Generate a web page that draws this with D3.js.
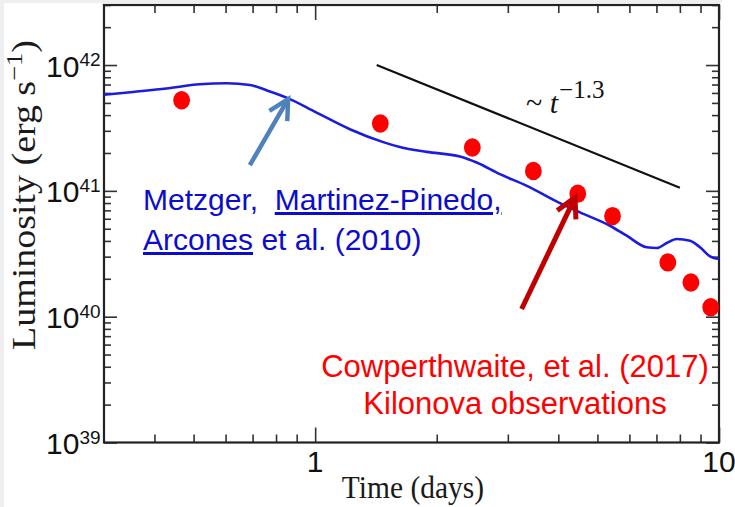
<!DOCTYPE html>
<html>
<head>
<meta charset="utf-8">
<script src="https://cdn.jsdelivr.net/npm/d3@7"></script>
<style>
  html, body { margin: 0; padding: 0; background: #fff; }
  svg { display: block; }
  text { white-space: pre; }
</style>
</head>
<body>
<div id="chart"></div>
<script>
// Cowperthwaite et al. (2017) kilonova observations (days, erg/s)
const obsTime = [0.467, 1.45, 2.45, 3.47, 4.47, 5.45, 7.47, 8.52, 9.54];
const obsLum  = [5.25e41, 3.43e41, 2.21e41, 1.44e41, 9.5e40, 6.3e40, 2.7e40, 1.87e40, 1.19e40];

// Metzger, Martinez-Pinedo, Arcones et al. (2010) model light curve
const modelTime = [0.30, 0.354, 0.428, 0.518, 0.604, 0.689, 0.758, 0.850, 1.008, 1.219,
                   1.474, 1.621, 1.888, 2.283, 2.511, 2.868, 3.343, 4.037, 4.526, 5.370,
                   5.907, 6.622, 7.011, 7.423, 7.859, 8.477, 8.973, 9.50, 10.0];
const modelLum  = [5.80e41, 6.11e41, 6.50e41, 7.03e41, 7.16e41, 6.94e41, 6.30e41, 5.51e41, 4.19e41, 3.09e41,
                   2.44e41, 2.23e41, 2.04e41, 1.875e41, 1.68e41, 1.357e41, 1.096e41, 7.99e40, 6.74e40, 5.28e40,
                   4.40e40, 3.56e40, 3.51e40, 3.85e40, 4.14e40, 4.01e40, 3.56e40, 3.02e40, 2.87e40];

// ~ t^-1.3 guide line end points
const slopeTime = [1.42, 8.0];
const slopeLum  = [1.0e42, 1.06e41];

// annotation arrows: [tail, tip] in (days, erg/s)
const blueArrow = [[0.689, 1.6e41], [0.857, 5.35e41]];
const redArrow  = [[3.245, 1.15e40], [4.40, 8.87e40]];

// ticks
const xMajor = [1, 10];
const xMajorLabels = ["1", "10"];
const xMinor = [0.4, 0.5, 0.6, 0.7, 0.8, 0.9, 2, 3, 4, 5, 6, 7, 8, 9];
const yExponents = [39, 40, 41, 42];
const yMultipliers = [2, 3, 4, 5, 6, 7, 8, 9];

const width = 735, height = 507;
const plot = { left: 104, right: 719, top: 5, bottom: 442.5 };

const x = d3.scaleLog().domain([0.3, 10]).range([plot.left, plot.right]);
const y = d3.scaleLog().domain([1e39, 3e42]).range([plot.bottom, plot.top]);

const yMajor = yExponents.map(e => Math.pow(10, e));
const yMinor = [];
yExponents.forEach(e => yMultipliers.forEach(m => {
    const v = m * Math.pow(10, e);
    if (v <= 3e42) yMinor.push(v);
}));

const svg = d3.select("#chart").append("svg")
    .attr("width", width)
    .attr("height", height)
    .attr("viewBox", `0 0 ${width} ${height}`);

// slide border strips
svg.append("rect").attr("x", 0).attr("y", 0).attr("width", 4).attr("height", height).attr("fill", "#efefef");
svg.append("rect").attr("x", 0).attr("y", 0).attr("width", 722).attr("height", 3).attr("fill", "#efefef");

svg.append("defs").append("clipPath").attr("id", "clip")
    .append("rect")
    .attr("x", plot.left).attr("y", plot.top)
    .attr("width", plot.right - plot.left).attr("height", plot.bottom - plot.top);

// ticks on all four sides, pointing inward
function tickAxis(axisFn, scale, values, size, transform) {
    const g = svg.append("g")
        .attr("transform", transform)
        .call(axisFn(scale).tickValues(values).tickSize(-size).tickFormat(""));
    g.select(".domain").remove();
    g.selectAll(".tick line").attr("stroke", "#333").attr("stroke-width", 1.6);
    return g;
}
tickAxis(d3.axisBottom, x, xMinor, 8, `translate(0,${plot.bottom})`);
tickAxis(d3.axisBottom, x, xMajor, 15, `translate(0,${plot.bottom})`);
tickAxis(d3.axisTop, x, xMinor, 8, `translate(0,${plot.top})`);
tickAxis(d3.axisTop, x, xMajor, 15, `translate(0,${plot.top})`);
tickAxis(d3.axisLeft, y, yMinor, 7, `translate(${plot.left},0)`);
tickAxis(d3.axisLeft, y, yMajor, 13, `translate(${plot.left},0)`);
tickAxis(d3.axisRight, y, yMinor, 7, `translate(${plot.right},0)`);
tickAxis(d3.axisRight, y, yMajor, 13, `translate(${plot.right},0)`);

// frame
svg.append("rect")
    .attr("x", plot.left).attr("y", plot.top)
    .attr("width", plot.right - plot.left).attr("height", plot.bottom - plot.top)
    .attr("fill", "none").attr("stroke", "#222").attr("stroke-width", 2.2);

// x tick labels
svg.append("g").selectAll("text")
    .data(xMajor)
    .join("text")
    .attr("x", d => x(d))
    .attr("y", plot.bottom + 29.5)
    .attr("text-anchor", "middle")
    .style("font", "30px 'Liberation Sans', Arial, sans-serif")
    .attr("fill", "#111")
    .text((d, i) => xMajorLabels[i]);

// y tick labels 10^n
const yLab = svg.append("g").selectAll("text")
    .data(yExponents)
    .join("text")
    .attr("x", 46)
    .attr("y", d => y(Math.pow(10, d)) + 11.5)
    .style("font", "30px 'Liberation Sans', Arial, sans-serif")
    .attr("fill", "#111");
yLab.append("tspan").text("10");
yLab.append("tspan").attr("dy", -10.5).style("font-size", "19px").text(d => d);

// axis titles
svg.append("text")
    .attr("transform", "translate(35,195) rotate(-90) scale(1.15,1)")
    .attr("text-anchor", "middle")
    .style("font", "33px 'Liberation Serif', 'Times New Roman', serif")
    .attr("fill", "#1a1a1a")
    .call(t => {
        t.append("tspan").text("Luminosity (erg s");
        t.append("tspan").attr("dy", -13).style("font-size", "23px").text("\u22121");
        t.append("tspan").attr("dy", 13).text(")");
    });

svg.append("text")
    .attr("transform", "translate(413,498) scale(1,1.1)")
    .attr("text-anchor", "middle")
    .style("font", "29.5px 'Liberation Serif', 'Times New Roman', serif")
    .attr("fill", "#1a1a1a")
    .text("Time (days)");

const chart = svg.append("g").attr("clip-path", "url(#clip)");

// model curve
const line = d3.line()
    .x(d => x(d[0]))
    .y(d => y(d[1]))
    .curve(d3.curveMonotoneX);

chart.append("path")
    .datum(modelTime.map((t, i) => [t, modelLum[i]]))
    .attr("d", line)
    .attr("fill", "none")
    .attr("stroke", "#1c1ce0")
    .attr("stroke-width", 2.6);

// power-law guide
chart.append("path")
    .datum(slopeTime.map((t, i) => [t, slopeLum[i]]))
    .attr("d", d3.line().x(d => x(d[0])).y(d => y(d[1])))
    .attr("stroke", "#111")
    .attr("stroke-width", 2.2);

// observations
svg.append("g").selectAll("ellipse")
    .data(obsTime.map((t, i) => [t, obsLum[i]]))
    .join("ellipse")
    .attr("cx", d => x(d[0]))
    .attr("cy", d => y(d[1]))
    .attr("rx", 8.4)
    .attr("ry", 9.2)
    .attr("fill", "#ff0000");

// guide label ~ t^-1.3
svg.append("text")
    .attr("x", 526)
    .attr("y", 113)
    .style("font", "30px 'Liberation Serif', 'Times New Roman', serif")
    .attr("fill", "#111")
    .call(t => {
        t.append("tspan").text("~ ");
        t.append("tspan").style("font-style", "italic").text("t");
        t.append("tspan").attr("dy", -15).attr("dx", 1).style("font-size", "25px").text("\u22121.3");
    });

// arrows
function arrow(pts, color, w) {
    const tail = [x(pts[0][0]), y(pts[0][1])];
    const tip = [x(pts[1][0]), y(pts[1][1])];
    const ang = Math.atan2(tip[1] - tail[1], tip[0] - tail[0]);
    const len = 22, spread = 28 * Math.PI / 180;
    const arm = a => [tip[0] - len * Math.cos(ang + a), tip[1] - len * Math.sin(ang + a)];
    const g = svg.append("g")
        .attr("fill", "none")
        .attr("stroke", color)
        .attr("stroke-width", w);
    g.append("path").attr("d", d3.line()([tail, tip]));
    g.append("path")
        .attr("d", d3.line()([arm(spread), tip, arm(-spread)]))
        .attr("stroke-linejoin", "miter");
}
arrow(blueArrow, "#4f81bd", 4.5);
arrow(redArrow, "#c00000", 5);

// model citation
const blueFont = "30px 'Liberation Sans', Arial, sans-serif";
const cite1 = svg.append("text").attr("x", 143).attr("y", 210).style("font", blueFont).attr("fill", "#0c0ccc");
cite1.append("tspan").text("Metzger,  ");
cite1.append("tspan").style("text-decoration", "underline").text("Martinez-Pinedo,");
const cite2 = svg.append("text").attr("x", 143).attr("y", 250).style("font", blueFont).attr("fill", "#0c0ccc");
cite2.append("tspan").style("text-decoration", "underline").text("Arcones");
cite2.append("tspan").text(" et al. (2010)");

// observation citation
const redLines = ["Cowperthwaite, et al. (2017)", "Kilonova observations"];
svg.append("g").selectAll("text")
    .data(redLines)
    .join("text")
    .attr("x", 515)
    .attr("y", (d, i) => 377 + i * 36.5)
    .attr("text-anchor", "middle")
    .style("font", "31px 'Liberation Sans', Arial, sans-serif")
    .attr("fill", "#ff0000")
    .text(d => d);
</script>
</body>
</html>
